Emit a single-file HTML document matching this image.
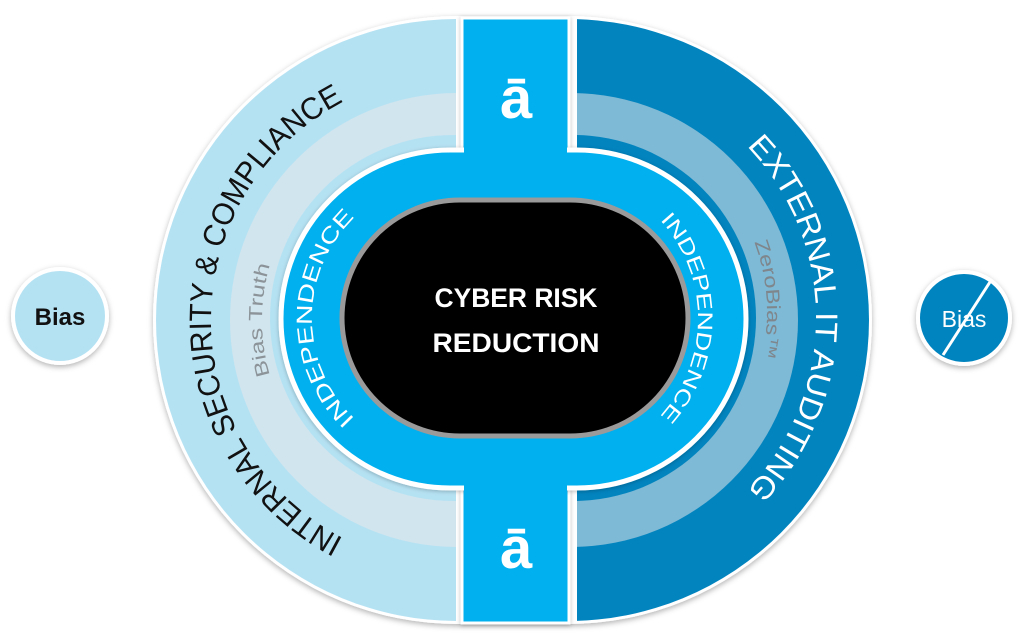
<!DOCTYPE html>
<html><head><meta charset="utf-8"><style>
html,body{margin:0;padding:0;background:#fff;}
svg{display:block;}
text{font-family:"Liberation Sans",sans-serif;}
</style></head><body>
<svg width="1024" height="643" viewBox="0 0 1024 643" xmlns="http://www.w3.org/2000/svg">
<defs>
<filter id="sh" x="-10%" y="-10%" width="120%" height="120%"><feDropShadow dx="0" dy="2" stdDeviation="3" flood-color="#000" flood-opacity="0.3"/></filter>
<filter id="sh2" x="-10%" y="-10%" width="120%" height="120%"><feDropShadow dx="0" dy="1" stdDeviation="2" flood-color="#000" flood-opacity="0.25"/></filter>
<clipPath id="cl"><rect x="0" y="0" width="456" height="643"/></clipPath>
<clipPath id="cr"><rect x="577" y="0" width="447" height="643"/></clipPath>
<path id="pL1" d="M457,566 A246,246 0 0 1 457,74"/>
<path id="pL2" d="M457,515 A195,195 0 0 1 457,125"/>
<path id="pL3" d="M452,458 A140,140 0 0 1 452,178"/>
<path id="pR1" d="M568,70 A248,248 0 0 1 568,566"/>
<path id="pR2" d="M568,113 A199,199 0 0 1 568,511"/>
<path id="pR3" d="M553,173 A145,145 0 0 1 553,463"/>
</defs>

<rect x="153" y="16" width="719" height="608" rx="304" ry="304" fill="#fff" filter="url(#sh)"/>
<g clip-path="url(#cl)">
<rect x="156" y="19" width="713" height="602" rx="301" ry="301" fill="#b5e2f3"/>
<rect x="230" y="93" width="565" height="454" rx="227" ry="227" fill="#d1e5ee"/>
<rect x="270" y="135" width="485" height="366" rx="183" ry="183" fill="#b5e2f3"/>
</g>
<g clip-path="url(#cr)">
<rect x="156" y="19" width="713" height="602" rx="301" ry="301" fill="#0284bf"/>
<rect x="230" y="93" width="568" height="454" rx="227" ry="227" fill="#7eb9d5"/>
<rect x="270" y="135" width="486" height="366" rx="183" ry="183" fill="#0284bf"/>
</g>

<rect x="462" y="18" width="107" height="605" fill="#00b0ef" stroke="#fff" stroke-width="3" filter="url(#sh2)"/>

<rect x="281" y="150" width="465" height="338" rx="169" ry="169" fill="#00b0ef" stroke="#fff" stroke-width="5" filter="url(#sh2)"/>
<rect x="464" y="140" width="103" height="360" fill="#00b0ef"/>

<rect x="342" y="200" width="346" height="236" rx="118" ry="118" fill="#000" stroke="#9a9a9a" stroke-width="5"/>

<text x="516" y="118" font-size="58" font-weight="bold" fill="#fff" text-anchor="middle">ā</text>
<text x="516" y="568" font-size="58" font-weight="bold" fill="#fff" text-anchor="middle">ā</text>

<text x="516" y="307" font-size="27" font-weight="bold" fill="#fff" text-anchor="middle" textLength="163" lengthAdjust="spacingAndGlyphs">CYBER RISK</text>
<text x="516" y="352" font-size="27" font-weight="bold" fill="#fff" text-anchor="middle" textLength="167" lengthAdjust="spacingAndGlyphs">REDUCTION</text>

<text font-size="31" fill="#111"><textPath href="#pL1" startOffset="50%" text-anchor="middle" textLength="537" lengthAdjust="spacingAndGlyphs">INTERNAL SECURITY &amp; COMPLIANCE</textPath></text>
<text font-size="19" fill="#8c9499"><textPath href="#pL2" startOffset="50%" text-anchor="middle" textLength="112" lengthAdjust="spacingAndGlyphs">Bias Truth</textPath></text>
<text font-size="22" fill="#fff"><textPath href="#pL3" startOffset="50%" text-anchor="middle" textLength="225" lengthAdjust="spacingAndGlyphs">INDEPENDENCE</textPath></text>

<text font-size="31" fill="#fff"><textPath href="#pR1" startOffset="50%" text-anchor="middle" textLength="380" lengthAdjust="spacingAndGlyphs">EXTERNAL IT AUDITING</textPath></text>
<text font-size="19" fill="#7f868c"><textPath href="#pR2" startOffset="48%" text-anchor="middle" textLength="118" lengthAdjust="spacingAndGlyphs">ZeroBias™</textPath></text>
<text font-size="21" fill="#fff"><textPath href="#pR3" startOffset="50%" text-anchor="middle" textLength="215" lengthAdjust="spacingAndGlyphs">INDEPENDENCE</textPath></text>

<circle cx="60" cy="316" r="47" fill="#b5e2f3" stroke="#fff" stroke-width="4" filter="url(#sh)"/>
<text x="60" y="325" font-size="24" font-weight="bold" fill="#111" text-anchor="middle">Bias</text>
<circle cx="964" cy="318" r="46" fill="#0284bf" stroke="#fff" stroke-width="4" filter="url(#sh)"/>
<text x="964" y="327" font-size="23" fill="#fff" text-anchor="middle">Bias</text>
<line x1="990" y1="282" x2="943" y2="355" stroke="#fff" stroke-width="3"/>
</svg>
</body></html>
